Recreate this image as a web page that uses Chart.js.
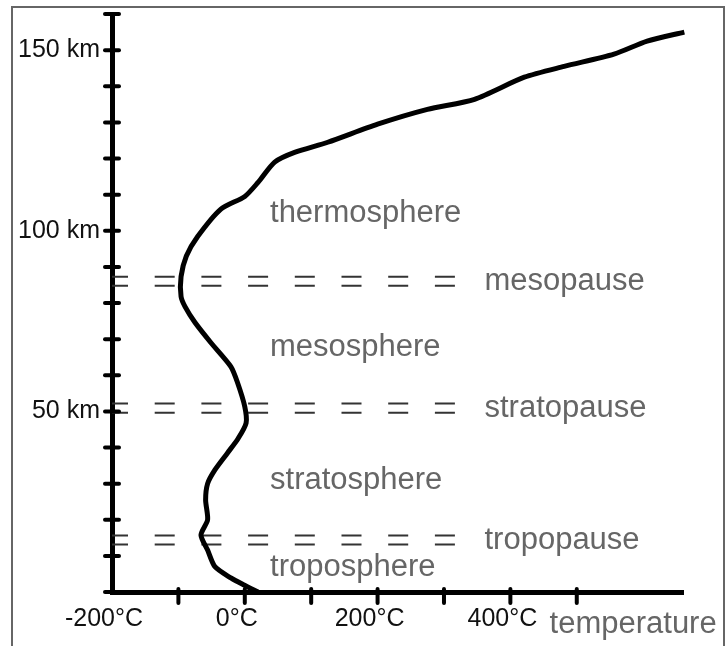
<!DOCTYPE html>
<html>
<head>
<meta charset="utf-8">
<script src="https://cdn.jsdelivr.net/npm/chart.js@4/dist/chart.umd.min.js"></script>
<style>
    html, body { margin: 0; padding: 0; background: #fff; }
    canvas { display: block; }
</style>
</head>
<body>
<canvas id="grafico" width="725" height="646"></canvas>
<script>
// Perfil de temperatura (°C) contra altitud (km).
const temperaturas = [20, -2, -21, -45, -56, -66, -56, -59, -56, -45, -26, -10, 2, 0, -11, -21, -51, -75, -90, -96, -96, -88, -71, -36, 0, 20, 45, 75, 125, 200, 275, 346, 421, 481, 556, 606, 662];
const altitudes = [0, 2, 3.9, 7, 11.6, 15.8, 20, 25.5, 30, 33.8, 38.5, 42.5, 46.8, 51.3, 58, 62.4, 69, 74.6, 79, 81.8, 87.3, 93, 98.4, 106, 109.5, 113.4, 119, 121.7, 124.5, 129.5, 133.6, 136.4, 142.5, 145.5, 148.9, 152.5, 155];

// Capas límite (líneas dobles discontinuas).
const pausas = ['mesopause', 'stratopause', 'tropopause'];
const alturasPausa = [86, 50.9, 14.4];

// Nombres de las capas.
const capas = ['thermosphere', 'mesosphere', 'stratosphere', 'troposphere'];
const alturasCapa = [104.8, 67.6, 31, 6.9];

// Etiquetas de los ejes.
const etiquetasX = [-200, 0, 200, 400];
const etiquetasY = [50, 100, 150];

const FUENTE = '"Liberation Sans", Arial, sans-serif';

// Se arman los conjuntos de datos.
const curva = temperaturas.map((t, i) => ({ x: t, y: altitudes[i] }));
const conjuntos = [{
    data: curva,
    showLine: true,
    borderColor: '#000',
    borderWidth: 5,
    pointRadius: 0,
    tension: 0.25,
    clip: false
}];
// Cada pausa se dibuja como dos líneas paralelas discontinuas.
alturasPausa.forEach((h) => {
    [-1.25, 1.25].forEach((d) => {
        conjuntos.push({
            data: [{ x: -200, y: h + d }, { x: 320, y: h + d }],
            showLine: true,
            borderColor: '#333',
            borderWidth: 2,
            borderDash: [20, 26.7],
            borderDashOffset: 4,
            pointRadius: 0,
            tension: 0
        });
    });
});

// Plugin para el marco, las marcas de los ejes y los textos.
const decoracion = {
    id: 'decoracion',
    beforeDraw(chart) {
        const ctx = chart.ctx;
        ctx.save();
        ctx.strokeStyle = '#666';
        ctx.lineWidth = 2;
        ctx.beginPath();
        ctx.moveTo(12, 700);
        ctx.lineTo(12, 7);
        ctx.lineTo(724, 7);
        ctx.lineTo(724, 700);
        ctx.stroke();
        ctx.restore();
    },
    afterDraw(chart) {
        const ctx = chart.ctx;
        const x = chart.scales.x;
        const y = chart.scales.y;
        ctx.save();
        ctx.strokeStyle = '#000';
        ctx.lineWidth = 4;
        ctx.lineCap = 'round';
        // Marcas del eje y, cruzando el eje.
        y.ticks.forEach((t) => {
            const py = y.getPixelForValue(t.value);
            ctx.beginPath();
            ctx.moveTo(x.left - 7, py);
            ctx.lineTo(x.left + 7, py);
            ctx.stroke();
        });
        // Marcas del eje x, hacia abajo.
        x.ticks.forEach((t) => {
            if (t.value % 100 !== 0 || t.value === -200) return;
            const px = x.getPixelForValue(t.value);
            ctx.beginPath();
            ctx.moveTo(px, y.bottom - 3);
            ctx.lineTo(px, y.bottom + 11);
            ctx.stroke();
        });
        // Textos de las capas.
        ctx.fillStyle = '#666';
        ctx.font = '31px ' + FUENTE;
        ctx.textBaseline = 'middle';
        ctx.textAlign = 'left';
        capas.forEach((c, i) => {
            ctx.fillText(c, x.getPixelForValue(38), y.getPixelForValue(alturasCapa[i]));
        });
        pausas.forEach((p, i) => {
            ctx.fillText(p, x.getPixelForValue(361), y.getPixelForValue(alturasPausa[i]));
        });
        ctx.fillText('temperature', x.getPixelForValue(459), y.getPixelForValue(-9.1));
        ctx.restore();
    }
};

const context = document.getElementById('grafico').getContext('2d');
const chart = new Chart(context, {
    type: 'scatter',
    data: { datasets: conjuntos },
    options: {
        responsive: false,
        animation: false,
        devicePixelRatio: 1,
        layout: {
            padding: { left: 12, top: 14, right: 42, bottom: 0 }
        },
        plugins: {
            legend: { display: false },
            tooltip: { enabled: false }
        },
        scales: {
            x: {
                type: 'linear',
                min: -200,
                max: 660,
                afterFit: (scale) => {
                    scale.height = 54;
                    scale.paddingLeft = 0;
                    scale.paddingRight = 0;
                },
                grid: { display: false },
                border: { display: true, color: '#000', width: 5 },
                ticks: {
                    stepSize: 100,
                    autoSkip: false,
                    maxRotation: 0,
                    padding: 4,
                    labelOffset: -8,
                    color: '#111',
                    font: { family: FUENTE, size: 25 },
                    callback: (v) => etiquetasX.includes(v) ? v + '°C' : ''
                }
            },
            y: {
                type: 'linear',
                min: 0,
                max: 160,
                afterFit: (scale) => {
                    scale.width = 100;
                    scale.paddingTop = 0;
                    scale.paddingBottom = 0;
                },
                grid: { display: false },
                border: { display: true, color: '#000', width: 5 },
                ticks: {
                    stepSize: 10,
                    autoSkip: false,
                    padding: 4,
                    color: '#111',
                    font: { family: FUENTE, size: 25 },
                    callback: (v) => etiquetasY.includes(v) ? v + ' km' : ''
                }
            }
        }
    },
    plugins: [decoracion]
});
</script>
</body>
</html>
